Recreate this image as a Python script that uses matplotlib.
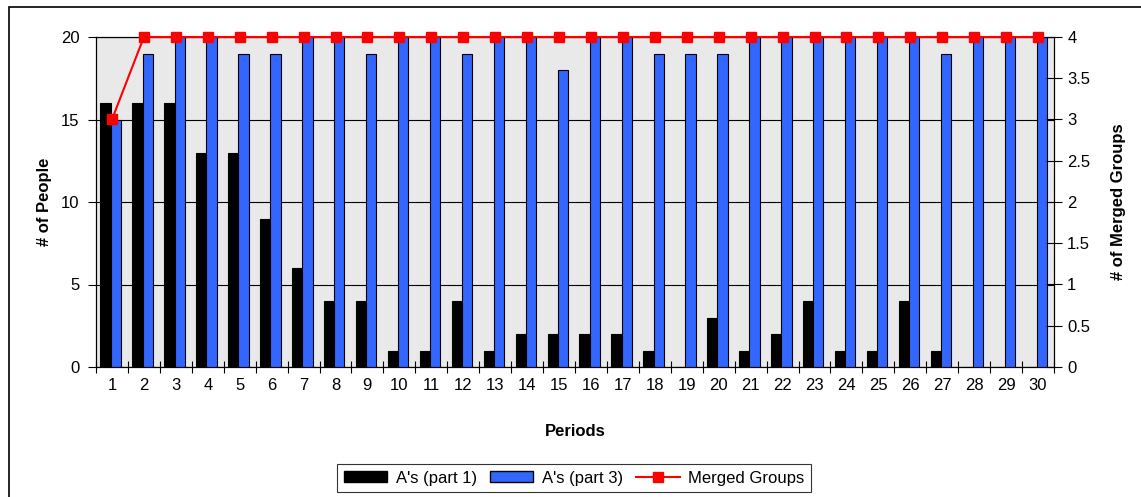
import matplotlib
matplotlib.use("Agg")
import matplotlib.pyplot as plt
from matplotlib.patches import Rectangle, Patch
from matplotlib.lines import Line2D
import numpy as np

plt.rcParams['font.family'] = ['Liberation Sans', 'DejaVu Sans']

periods = list(range(1, 31))
part1 = [16, 16, 16, 13, 13, 9, 6, 4, 4, 1, 1, 4, 1, 2, 2, 2, 2, 1, 0, 3,
         1, 2, 4, 1, 1, 4, 1, 0, 0, 0]
part3 = [15, 19, 20, 20, 19, 19, 20, 20, 19, 20, 20, 19, 20, 20, 18, 20, 20, 19, 19, 19,
         20, 20, 20, 20, 20, 20, 19, 20, 20, 20]
merged = [3] + [4] * 29

fig = plt.figure(figsize=(11.41, 4.97), dpi=100)
W, H = 1141, 497
left, right, top, bottom = 96, 1054, 37, 367
ax = fig.add_axes([left / W, 1 - bottom / H, (right - left) / W, (bottom - top) / H])
ax.set_facecolor('#e9e9e9')

x = np.arange(len(periods))
bw = 0.32
ax.bar(x - bw / 2 - 0.04, part1, width=bw, color='black', edgecolor='black',
       linewidth=0.8, zorder=3, label="A's (part 1)")
ax.bar(x + bw / 2 - 0.04, part3, width=bw, color='#3366ff', edgecolor='black',
       linewidth=0.8, zorder=3, label="A's (part 3)")

ax.set_xlim(-0.5, len(periods) - 0.5)
ax.set_ylim(0, 20)
ax.set_yticks([0, 5, 10, 15, 20])
ax.yaxis.grid(True, color='black', linewidth=0.8, zorder=1)
ax.set_axisbelow(True)
ax.set_xticks(x)
ax.set_xticklabels([str(p) for p in periods])
ax.set_xticks(np.arange(-0.5, len(periods)), minor=True)
ax.tick_params(axis='x', which='major', length=0, pad=8, labelsize=12)
ax.tick_params(axis='x', which='minor', length=9, direction='inout', width=0.8)
ax.tick_params(axis='y', length=6, direction='out', width=0.8, labelsize=12, pad=6)
for s in ax.spines.values():
    s.set_linewidth(0.8)
ax.set_ylabel('# of People', fontsize=12, fontweight='bold', labelpad=6)
ax.set_xlabel('Periods', fontsize=12, fontweight='bold', labelpad=22)

ax2 = ax.twinx()
ax2.set_ylim(0, 4)
ax2.set_yticks([0, 0.5, 1, 1.5, 2, 2.5, 3, 3.5, 4])
ax2.set_yticklabels(['0', '0.5', '1', '1.5', '2', '2.5', '3', '3.5', '4'])
ax2.tick_params(axis='y', length=11, direction='inout', width=0.8, labelsize=12, pad=4)
ax2.plot(x, merged, color='#ff0000', linewidth=1.5, marker='s', markersize=7,
         markeredgecolor='#ff0000', clip_on=False, zorder=5)
ax2.set_ylabel('# of Merged Groups', fontsize=12, fontweight='bold', labelpad=15)

handles = [
    Patch(facecolor='black', edgecolor='black', label="A's (part 1)"),
    Patch(facecolor='#3366ff', edgecolor='black', label="A's (part 3)"),
    Line2D([0], [0], color='#ff0000', linewidth=1.5, marker='s', markersize=7,
           label='Merged Groups'),
]
leg = fig.legend(handles=handles, loc='center', bbox_to_anchor=(574 / W, 1 - 478 / H),
                 ncol=3, fontsize=12, frameon=True, fancybox=False, edgecolor='black',
                 handlelength=2.6, handleheight=0.6, handletextpad=0.5,
                 columnspacing=0.8, borderpad=0.4, borderaxespad=0)
leg.get_frame().set_linewidth(0.8)

fig.patches.append(Rectangle((9 / W, -0.2), 1.2, 1 - 7 / H + 0.2,
                             transform=fig.transFigure, fill=False,
                             edgecolor='black', linewidth=1.2))

fig.savefig('out.png', dpi=100)
